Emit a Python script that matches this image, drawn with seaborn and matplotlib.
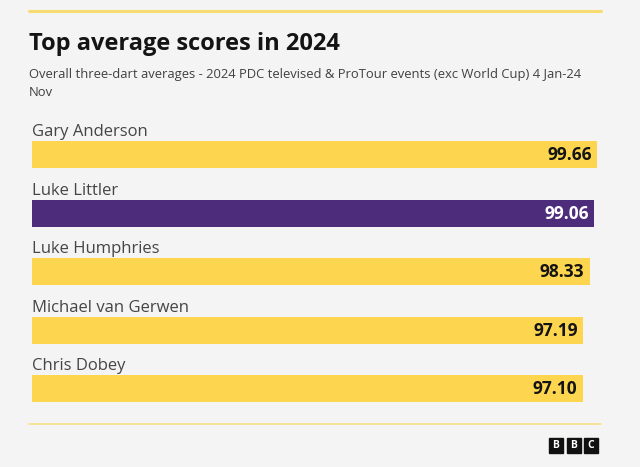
import matplotlib
matplotlib.use("Agg")
import matplotlib.pyplot as plt
import seaborn as sns
import pandas as pd
from matplotlib.patches import Rectangle
from matplotlib.lines import Line2D

# data
players = ["Gary Anderson", "Luke Littler", "Luke Humphries", "Michael van Gerwen", "Chris Dobey"]
averages = [99.66, 99.06, 98.33, 97.19, 97.10]
highlight = ["other", "littler", "other", "other", "other"]

title = "Top average scores in 2024"
subtitle = "Overall three-dart averages - 2024 PDC televised & ProTour events (exc World Cup) 4 Jan-24\nNov"

BG = "#F4F4F4"
YELLOW = "#FDD54F"
PURPLE = "#4E2C7C"
palette = {"other": YELLOW, "littler": PURPLE}

sns.set_theme(style="white")
plt.rcParams["font.family"] = ["Open Sans", "DejaVu Sans"]

W, H = 640, 467
fig = plt.figure(figsize=(W / 100, H / 100), dpi=100, facecolor=BG)

# axes placed in pixel terms
ax_left, ax_right, ax_top, ax_bot = 32, 600, 100, 420
ax = fig.add_axes([ax_left / W, 1 - ax_bot / H, (ax_right - ax_left) / W, (ax_bot - ax_top) / H])
ax.set_facecolor(BG)

df = pd.DataFrame({"player": players, "avg": averages, "grp": highlight})
sns.barplot(data=df, x="avg", y="player", hue="grp", palette=palette, orient="h",
            width=0.46, dodge=False, legend=False, ax=ax, saturation=1, linewidth=0)

px_per_unit = 58.6
ytop = -(154.5 - ax_top) / px_per_unit
ybot = ytop + (ax_bot - ax_top) / px_per_unit
ax.set_ylim(ybot, ytop)
ax.set_xlim(0, (ax_right - ax_left) / 5.67)
ax.axis("off")

for i, (name, val, g) in enumerate(zip(players, averages, highlight)):
    ax.text(0, i - 0.23 - 0.085, name, va="baseline", ha="left", fontsize=12, color="#454545")
    ax.text(val - 0.9, i + 0.01, f"{val:.2f}", va="center", ha="right", fontsize=12.5,
            fontweight="bold", color="white" if g == "littler" else "#141414")

# header
fig.add_artist(Line2D([29 / W, 601 / W], [1 - 11 / H, 1 - 11 / H], color="#F7DC72", lw=2.2))
fig.text(29 / W, 1 - 44 / H, title, fontsize=17, fontweight="bold", color="#141414", va="center")
fig.text(29 / W, 1 - 68 / H, subtitle, fontsize=9.4, color="#404040", va="top", linespacing=1.45)

# footer
fig.add_artist(Line2D([29 / W, 601 / W], [1 - 424 / H, 1 - 424 / H], color="#F7E08A", lw=1.2))
for k, letter in enumerate("BBC"):
    x0 = 549 + k * 17.5
    fig.add_artist(Rectangle((x0 / W, 1 - 453 / H), 14 / W, 15 / H, color="#111111",
                             transform=fig.transFigure))
    fig.text((x0 + 7) / W, 1 - 445.5 / H, letter, fontsize=7.5, fontweight="bold",
             color="white", ha="center", va="center")

fig.savefig("out.png", dpi=100, facecolor=BG)
